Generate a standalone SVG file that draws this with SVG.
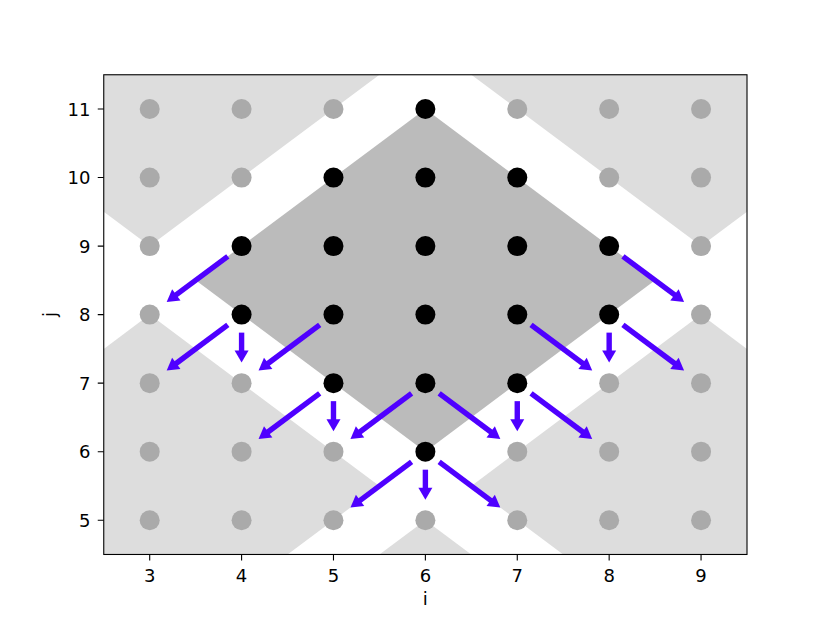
<svg xmlns="http://www.w3.org/2000/svg" width="830" height="623" viewBox="0 0 830 623">
<style>
.light{fill:#dddddd;stroke:none}
.dark{fill:#bbbbbb;stroke:none}
.g{fill:#aaaaaa}
.b{fill:#000000}
.arr{stroke:#4f00ff;stroke-width:5.4;fill:none;stroke-linecap:butt;marker-end:url(#ah)}
.tick{stroke:#000;stroke-width:1.1}
.lbl{font-family:"DejaVu Sans",sans-serif;font-size:18px;fill:#000}
</style>
<defs>
<marker id="ah" markerUnits="userSpaceOnUse" markerWidth="24" markerHeight="24" refX="0" refY="0" orient="auto" overflow="visible" viewBox="-12 -12 24 24">
<path d="M-2,-7 L10,0 L-2,7 z" fill="#4f00ff"/>
</marker>
</defs>
<rect x="0" y="0" width="830" height="623" fill="#ffffff"/>
<g id="regions">
<polygon class="light" points="103.75,74.76 379.43,74.76 149.70,246.09 103.75,211.82"/>
<polygon class="light" points="471.32,74.76 747,74.76 747,211.82 701.05,246.09"/>
<polygon class="light" points="103.75,348.88 149.70,314.62 379.43,485.94 287.54,554.47 103.75,554.47"/>
<polygon class="light" points="379.43,554.47 425.38,520.21 471.32,554.47"/>
<polygon class="light" points="747,348.88 701.05,314.62 471.32,485.94 563.21,554.47 747,554.47"/>
<polygon class="dark" points="425.38,109.03 655.11,280.35 425.38,451.68 195.64,280.35"/>
</g>
<g id="connectors">
<line class="arr" x1="227.81" y1="256.37" x2="174.69" y2="295.96"/>
<line class="arr" x1="622.94" y1="256.37" x2="676.06" y2="295.96"/>
<line class="arr" x1="227.81" y1="324.90" x2="174.69" y2="364.49"/>
<line class="arr" x1="241.59" y1="332.62" x2="241.59" y2="352.62"/>
<line class="arr" x1="319.70" y1="324.90" x2="266.58" y2="364.49"/>
<line class="arr" x1="531.05" y1="324.90" x2="584.17" y2="364.49"/>
<line class="arr" x1="609.16" y1="332.62" x2="609.16" y2="352.62"/>
<line class="arr" x1="622.94" y1="324.90" x2="676.06" y2="364.49"/>
<line class="arr" x1="319.70" y1="393.43" x2="266.58" y2="433.02"/>
<line class="arr" x1="333.48" y1="401.15" x2="333.48" y2="421.15"/>
<line class="arr" x1="411.60" y1="393.43" x2="358.48" y2="433.02"/>
<line class="arr" x1="439.16" y1="393.43" x2="492.28" y2="433.02"/>
<line class="arr" x1="517.27" y1="401.15" x2="517.27" y2="421.15"/>
<line class="arr" x1="531.05" y1="393.43" x2="584.17" y2="433.02"/>
<line class="arr" x1="411.60" y1="461.96" x2="358.48" y2="501.55"/>
<line class="arr" x1="425.38" y1="469.68" x2="425.38" y2="489.68"/>
<line class="arr" x1="439.16" y1="461.96" x2="492.28" y2="501.55"/>
</g>
<g id="points">
<g id="p3_11"><circle class="g" cx="149.70" cy="109.03" r="10"/></g>
<g id="p4_11"><circle class="g" cx="241.59" cy="109.03" r="10"/></g>
<g id="p5_11"><circle class="g" cx="333.48" cy="109.03" r="10"/></g>
<g id="p6_11"><circle class="b" cx="425.38" cy="109.03" r="10"/></g>
<g id="p7_11"><circle class="g" cx="517.27" cy="109.03" r="10"/></g>
<g id="p8_11"><circle class="g" cx="609.16" cy="109.03" r="10"/></g>
<g id="p9_11"><circle class="g" cx="701.05" cy="109.03" r="10"/></g>
<g id="p3_10"><circle class="g" cx="149.70" cy="177.56" r="10"/></g>
<g id="p4_10"><circle class="g" cx="241.59" cy="177.56" r="10"/></g>
<g id="p5_10"><circle class="b" cx="333.48" cy="177.56" r="10"/></g>
<g id="p6_10"><circle class="b" cx="425.38" cy="177.56" r="10"/></g>
<g id="p7_10"><circle class="b" cx="517.27" cy="177.56" r="10"/></g>
<g id="p8_10"><circle class="g" cx="609.16" cy="177.56" r="10"/></g>
<g id="p9_10"><circle class="g" cx="701.05" cy="177.56" r="10"/></g>
<g id="p3_9"><circle class="g" cx="149.70" cy="246.09" r="10"/></g>
<g id="p4_9"><circle class="b" cx="241.59" cy="246.09" r="10"/></g>
<g id="p5_9"><circle class="b" cx="333.48" cy="246.09" r="10"/></g>
<g id="p6_9"><circle class="b" cx="425.38" cy="246.09" r="10"/></g>
<g id="p7_9"><circle class="b" cx="517.27" cy="246.09" r="10"/></g>
<g id="p8_9"><circle class="b" cx="609.16" cy="246.09" r="10"/></g>
<g id="p9_9"><circle class="g" cx="701.05" cy="246.09" r="10"/></g>
<g id="p3_8"><circle class="g" cx="149.70" cy="314.62" r="10"/></g>
<g id="p4_8"><circle class="b" cx="241.59" cy="314.62" r="10"/></g>
<g id="p5_8"><circle class="b" cx="333.48" cy="314.62" r="10"/></g>
<g id="p6_8"><circle class="b" cx="425.38" cy="314.62" r="10"/></g>
<g id="p7_8"><circle class="b" cx="517.27" cy="314.62" r="10"/></g>
<g id="p8_8"><circle class="b" cx="609.16" cy="314.62" r="10"/></g>
<g id="p9_8"><circle class="g" cx="701.05" cy="314.62" r="10"/></g>
<g id="p3_7"><circle class="g" cx="149.70" cy="383.15" r="10"/></g>
<g id="p4_7"><circle class="g" cx="241.59" cy="383.15" r="10"/></g>
<g id="p5_7"><circle class="b" cx="333.48" cy="383.15" r="10"/></g>
<g id="p6_7"><circle class="b" cx="425.38" cy="383.15" r="10"/></g>
<g id="p7_7"><circle class="b" cx="517.27" cy="383.15" r="10"/></g>
<g id="p8_7"><circle class="g" cx="609.16" cy="383.15" r="10"/></g>
<g id="p9_7"><circle class="g" cx="701.05" cy="383.15" r="10"/></g>
<g id="p3_6"><circle class="g" cx="149.70" cy="451.68" r="10"/></g>
<g id="p4_6"><circle class="g" cx="241.59" cy="451.68" r="10"/></g>
<g id="p5_6"><circle class="g" cx="333.48" cy="451.68" r="10"/></g>
<g id="p6_6"><circle class="b" cx="425.38" cy="451.68" r="10"/></g>
<g id="p7_6"><circle class="g" cx="517.27" cy="451.68" r="10"/></g>
<g id="p8_6"><circle class="g" cx="609.16" cy="451.68" r="10"/></g>
<g id="p9_6"><circle class="g" cx="701.05" cy="451.68" r="10"/></g>
<g id="p3_5"><circle class="g" cx="149.70" cy="520.21" r="10"/></g>
<g id="p4_5"><circle class="g" cx="241.59" cy="520.21" r="10"/></g>
<g id="p5_5"><circle class="g" cx="333.48" cy="520.21" r="10"/></g>
<g id="p6_5"><circle class="g" cx="425.38" cy="520.21" r="10"/></g>
<g id="p7_5"><circle class="g" cx="517.27" cy="520.21" r="10"/></g>
<g id="p8_5"><circle class="g" cx="609.16" cy="520.21" r="10"/></g>
<g id="p9_5"><circle class="g" cx="701.05" cy="520.21" r="10"/></g>
</g>
<g id="axes">
<rect x="103.75" y="74.76" width="643.25" height="479.71" fill="none" stroke="#000" stroke-width="1.1"/>
<path class="tick" d="M149.70,554.47v6M241.59,554.47v6M333.48,554.47v6M425.38,554.47v6M517.27,554.47v6M609.16,554.47v6M701.05,554.47v6"/>
<path class="tick" d="M103.75,109.03h-6M103.75,177.56h-6M103.75,246.09h-6M103.75,314.62h-6M103.75,383.15h-6M103.75,451.68h-6M103.75,520.21h-6"/>
<g class="lbl" text-anchor="middle">
<text x="149.70" y="582">3</text>
<text x="241.59" y="582">4</text>
<text x="333.48" y="582">5</text>
<text x="425.38" y="582">6</text>
<text x="517.27" y="582">7</text>
<text x="609.16" y="582">8</text>
<text x="701.05" y="582">9</text>
<text x="425.38" y="605">i</text>
<text transform="translate(56,314.6) rotate(-90)" x="0" y="0">j</text>
</g>
<g class="lbl" text-anchor="end">
<text x="90.5" y="115.6">11</text>
<text x="90.5" y="184.1">10</text>
<text x="90.5" y="252.6">9</text>
<text x="90.5" y="321.1">8</text>
<text x="90.5" y="389.7">7</text>
<text x="90.5" y="458.2">6</text>
<text x="90.5" y="526.7">5</text>
</g>
</g>
</svg>
